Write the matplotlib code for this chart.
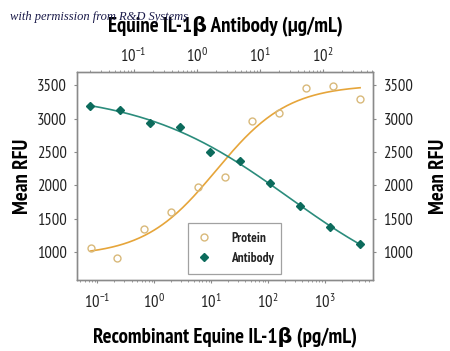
import numpy as np
import matplotlib
matplotlib.use("Agg")
import matplotlib.pyplot as plt
from matplotlib import font_manager as fm
from matplotlib.ticker import LogLocator, NullFormatter

# ---------------- data ----------------
protein_conc = [0.0766, 0.225, 0.67, 1.97, 5.96, 17.8, 52.4, 158, 466, 1390, 4140]   # pg/mL
protein_rfu = [1055, 915, 1349, 1603, 1973, 2127, 2961, 3091, 3460, 3485, 3290]
antibody_conc = [0.0202, 0.0606, 0.1815, 0.543, 1.63, 4.86, 14.6, 43.6, 130.6, 391]  # ug/mL
antibody_rfu = [3190, 3130, 2931, 2882, 2501, 2362, 2028, 1693, 1379, 1124]

y_ticks = [1000, 1500, 2000, 2500, 3000, 3500]
bottom_ticks = [0.1, 1, 10, 100, 1000]
top_ticks = [0.1, 1, 10, 100]

protein_color = "#E6A53A"
protein_marker = "#D9B97A"
antibody_color = "#2B8C7C"
antibody_marker = "#0C6B5C"

names = {f.name for f in fm.fontManager.ttflist}
chosen = "DejaVu Sans"
for cand in ["PT Sans Narrow", "Fira Sans Condensed", "Roboto Condensed", "Asap Condensed",
             "Archivo Narrow", "Encode Sans Condensed"]:
    if cand in names:
        chosen = cand
        break
plt.rcParams['font.family'] = [chosen, 'DejaVu Sans']
plt.rcParams['mathtext.fontset'] = 'custom'
plt.rcParams['mathtext.rm'] = chosen
plt.rcParams['mathtext.it'] = chosen + ':italic'
plt.rcParams['mathtext.bf'] = chosen + ':bold'
plt.rcParams['mathtext.fallback'] = 'cm'


def fit4pl(x, y):
    lx = np.log10(np.asarray(x, float))
    y = np.asarray(y, float)
    lcs = np.linspace(lx.min() - 1.5, lx.max() + 1.5, 500)
    bs = np.linspace(0.2, 3.0, 300)
    LC, B = np.meshgrid(lcs, bs, indexing="ij")
    g = 1.0 / (1.0 + 10 ** (B[..., None] * (lx[None, None, :] - LC[..., None])))
    h = 1 - g
    sgg = (g * g).sum(-1); shh = (h * h).sum(-1); sgh = (g * h).sum(-1)
    sgy = (g * y).sum(-1); shy = (h * y).sum(-1)
    det = sgg * shh - sgh ** 2
    det = np.where(np.abs(det) < 1e-12, 1e-12, det)
    a = (sgy * shh - shy * sgh) / det
    d = (shy * sgg - sgy * sgh) / det
    pred = a[..., None] * g + d[..., None] * h
    sse = ((pred - y) ** 2).sum(-1)
    i, j = np.unravel_index(np.argmin(sse), sse.shape)
    return a[i, j], d[i, j], lcs[i], bs[j]


def curve(params, xs):
    a, d, lc, b = params
    g = 1.0 / (1.0 + 10 ** (b * (np.log10(xs) - lc)))
    return a * g + d * (1 - g)


fig = plt.figure(figsize=(4.5, 3.51), dpi=100)
ax = fig.add_axes([77 / 450, 71 / 351, 296 / 450, 208 / 351])
ax2 = ax.twinx()
ax3 = ax.twiny()

spine_col = "#8A8A8A"
for a_ in (ax, ax2, ax3):
    for s in a_.spines.values():
        s.set_color(spine_col)
        s.set_linewidth(0.9)

# protein on bottom axis
ax.set_xscale("log")
ax.set_xlim(10 ** -1.357, 10 ** 3.844)
ax.set_ylim(580, 3700)
pp = fit4pl(protein_conc, protein_rfu)
xs = np.logspace(np.log10(protein_conc[0]), np.log10(protein_conc[-1]), 200)
ax.plot(xs, curve(pp, xs), color=protein_color, lw=1.2, zorder=2)
hp, = ax.plot(protein_conc, protein_rfu, linestyle="none", marker="o", ms=5,
              mfc="none", mec=protein_marker, mew=1.0, zorder=3, label="Protein")

# antibody on top axis
ax3.set_xscale("log")
ax3.set_xlim(10 ** -1.9, 10 ** 2.8)
ax3.set_ylim(580, 3700)
pa = fit4pl(antibody_conc, antibody_rfu)
xs2 = np.logspace(np.log10(antibody_conc[0]), np.log10(antibody_conc[-1]), 200)
ax3.plot(xs2, curve(pa, xs2), color=antibody_color, lw=1.2, zorder=2)
ha, = ax3.plot(antibody_conc, antibody_rfu, linestyle="none", marker="D", ms=4.5,
               color=antibody_marker, zorder=3, label="Antibody")

ax2.set_ylim(580, 3700)

tick_fs = 12
ax.set_yticks(y_ticks)
ax.set_yticklabels([str(v) for v in y_ticks], fontsize=tick_fs)
ax2.set_yticks(y_ticks)
ax2.set_yticklabels([str(v) for v in y_ticks], fontsize=tick_fs)

ax.set_xticks(bottom_ticks)
ax.set_xticklabels([r"$\mathregular{10^{%d}}$" % int(np.log10(v)) for v in bottom_ticks], fontsize=tick_fs)
ax.xaxis.set_minor_locator(LogLocator(base=10, subs=np.arange(2, 10), numticks=20))
ax.xaxis.set_minor_formatter(NullFormatter())
ax3.set_xticks(top_ticks)
ax3.set_xticklabels([r"$\mathregular{10^{%d}}$" % int(np.log10(v)) for v in top_ticks], fontsize=tick_fs)
ax3.xaxis.set_minor_locator(LogLocator(base=10, subs=np.arange(2, 10), numticks=20))
ax3.xaxis.set_minor_formatter(NullFormatter())

for a_ in (ax, ax2, ax3):
    a_.tick_params(which="major", length=2.5, width=0.8, color=spine_col, pad=5, labelcolor="#222222")
    a_.tick_params(which="minor", length=1.5, width=0.6, color=spine_col)
ax.tick_params(axis="x", which="major", pad=7)
ax3.tick_params(axis="x", which="major", pad=2)

lab_fs = 15
lab_fam = [chosen, "DejaVu Sans"]
ax.set_xlabel("Recombinant Equine IL-1β (pg/mL)", fontsize=lab_fs, fontweight="bold", labelpad=10, family=lab_fam)
ax3.set_xlabel("Equine IL-1β Antibody (µg/mL)", fontsize=lab_fs, fontweight="bold", labelpad=11, family=lab_fam)
ax.set_ylabel("Mean RFU", fontsize=lab_fs, fontweight="bold", labelpad=3, family=lab_fam)
ax2.set_ylabel("Mean RFU", fontsize=lab_fs, fontweight="bold", labelpad=11, family=lab_fam)

leg = ax3.legend(handles=[hp, ha], loc="lower left", bbox_to_anchor=(0.375, 0.03, 0.315, 0.22),
                 mode="expand", fontsize=9.5, frameon=True, fancybox=False,
                 edgecolor=spine_col, handlelength=1.0, borderpad=0.7, labelspacing=0.5,
                 handletextpad=1.6, borderaxespad=0)
leg.get_frame().set_linewidth(0.9)
for t in leg.get_texts():
    t.set_fontweight("bold")
    t.set_color("#222222")

fig.text(0.022, 0.952, "with permission from R&D Systems", fontsize=9, fontstyle="italic",
         family=["Liberation Serif", "DejaVu Serif"], color="#1B1B4A", va="center", zorder=10)

fig.savefig("out.png", dpi=100, facecolor="white")
